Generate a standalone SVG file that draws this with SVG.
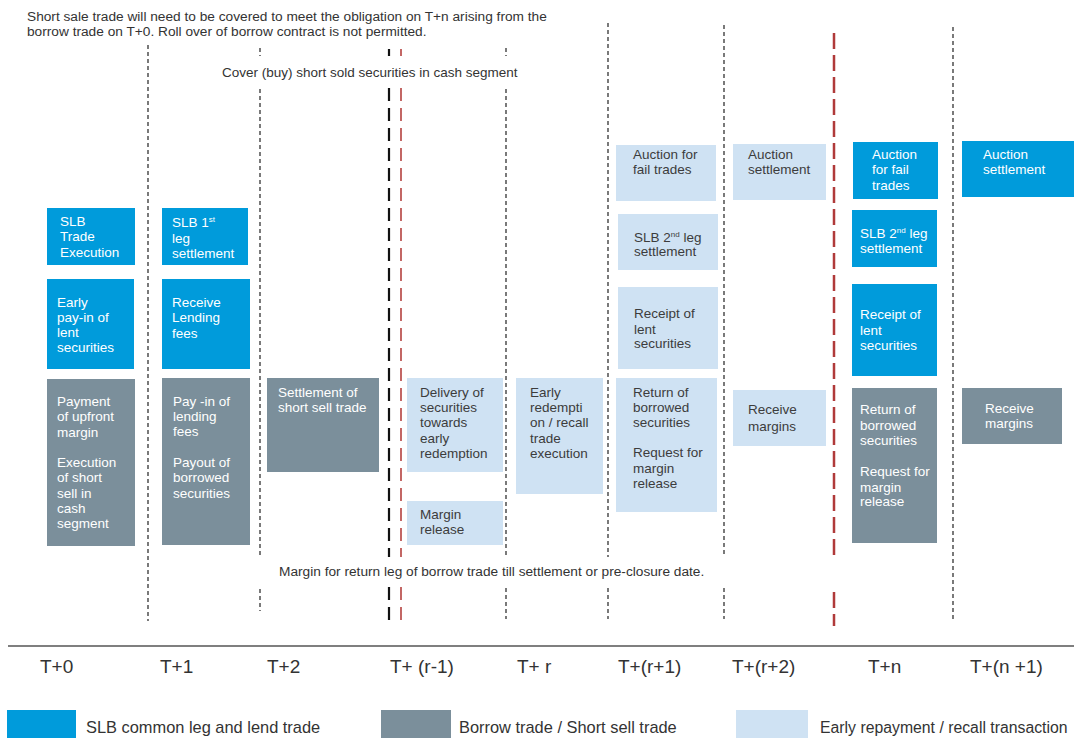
<svg xmlns="http://www.w3.org/2000/svg" width="1074" height="738" viewBox="0 0 1074 738">
<style>
text{font-family:"Liberation Sans",Arial,sans-serif;}
.b{fill:#009BDB;}
.g{fill:#7B8F9B;}
.l{fill:#CFE2F3;}
.w{fill:#FFFFFF;font-size:13.5px;}
.d{fill:#3C3C3C;font-size:13.5px;}
.n{fill:#333333;font-size:13.7px;}
.ax{fill:#333333;font-size:19px;}
.lg{fill:#333333;font-size:16.4px;}
.thin{stroke:#222;stroke-width:1.2;stroke-dasharray:4 3;fill:none;}
.bk{stroke:#111;stroke-width:2.2;stroke-dasharray:13 7;fill:none;}
.rd{stroke:#B5413F;stroke-width:1.6;stroke-dasharray:13 7;fill:none;}
.rd2{stroke:#B03A3A;stroke-width:2.5;stroke-dasharray:16 6;fill:none;}
</style>
<rect width="1074" height="738" fill="#FFFFFF"/>
<g id="notes">
<text class="n" x="27" y="21">Short sale trade will need to be covered to meet the obligation on T+n arising from the</text>
<text class="n" x="27" y="36">borrow trade on T+0. Roll over of borrow contract is not permitted.</text>
<text class="n" x="222" y="77" style="font-size:13.5px">Cover (buy) short sold securities in cash segment</text>
<text class="n" x="279" y="576" style="font-size:13.7px">Margin for return leg of borrow trade till settlement or pre-closure date.</text>
</g>
<g id="connectors">
<line class="thin" x1="148" y1="45" x2="148" y2="621"/>
<line class="thin" x1="260" y1="48" x2="260" y2="56"/>
<line class="thin" x1="260" y1="89" x2="260" y2="557"/>
<line class="thin" x1="260" y1="589" x2="260" y2="611"/>
<line class="bk" x1="389" y1="49" x2="389" y2="56"/>
<line class="bk" x1="389" y1="88" x2="389" y2="557"/>
<line class="bk" x1="389" y1="587" x2="389" y2="620"/>
<line class="rd" x1="401" y1="49" x2="401" y2="56"/>
<line class="rd" x1="401" y1="88" x2="401" y2="557"/>
<line class="rd" x1="401" y1="587" x2="401" y2="620"/>
<line class="thin" x1="506" y1="48" x2="506" y2="56"/>
<line class="thin" x1="506" y1="89" x2="506" y2="557"/>
<line class="thin" x1="506" y1="588" x2="506" y2="619"/>
<line class="thin" x1="608" y1="23" x2="608" y2="557"/>
<line class="thin" x1="608" y1="588" x2="608" y2="619"/>
<line class="thin" x1="724" y1="25" x2="724" y2="557"/>
<line class="thin" x1="724" y1="588" x2="724" y2="619"/>
<line class="rd2" x1="834" y1="33" x2="834" y2="557"/>
<line class="rd2" x1="834" y1="592" x2="834" y2="626"/>
<line class="thin" x1="953" y1="27" x2="953" y2="621"/>
<line x1="8" y1="646" x2="1074" y2="646" stroke="#555" stroke-width="1.6"/>
</g>
<g id="t0-slb-trade">
<rect class="b" x="47" y="208" width="88" height="57"/>
<text class="w" x="60" y="226">SLB</text>
<text class="w" x="60" y="241">Trade</text>
<text class="w" x="60" y="257">Execution</text>
</g>
<g id="t0-early-payin">
<rect class="b" x="47" y="279" width="87" height="90"/>
<text class="w" x="57" y="307">Early</text>
<text class="w" x="57" y="322">pay-in of</text>
<text class="w" x="57" y="337">lent</text>
<text class="w" x="57" y="352">securities</text>
</g>
<g id="t0-payment">
<rect class="g" x="47" y="379" width="88" height="167"/>
<text class="w" x="57" y="406">Payment</text>
<text class="w" x="57" y="421">of upfront</text>
<text class="w" x="57" y="437">margin</text>
<text class="w" x="57" y="467">Execution</text>
<text class="w" x="57" y="482">of short</text>
<text class="w" x="57" y="498">sell in</text>
<text class="w" x="57" y="513">cash</text>
<text class="w" x="57" y="528">segment</text>
</g>
<g id="t1-slb-1st">
<rect class="b" x="162" y="208" width="86" height="57"/>
<text class="w" x="172" y="227">SLB 1<tspan font-size="8" dy="-5">st</tspan></text>
<text class="w" x="172" y="243">leg</text>
<text class="w" x="172" y="258">settlement</text>
</g>
<g id="t1-receive-fees">
<rect class="b" x="162" y="279" width="88" height="90"/>
<text class="w" x="172" y="307">Receive</text>
<text class="w" x="172" y="322">Lending</text>
<text class="w" x="172" y="338">fees</text>
</g>
<g id="t1-payin">
<rect class="g" x="162" y="378" width="88" height="167"/>
<text class="w" x="173" y="406">Pay -in of</text>
<text class="w" x="173" y="421">lending</text>
<text class="w" x="173" y="436">fees</text>
<text class="w" x="173" y="467">Payout of</text>
<text class="w" x="173" y="482">borrowed</text>
<text class="w" x="173" y="498">securities</text>
</g>
<g id="t2-settlement">
<rect class="g" x="267" y="378" width="112" height="94"/>
<text class="w" x="278" y="397">Settlement of</text>
<text class="w" x="278" y="412">short sell trade</text>
</g>
<g id="tr1-delivery">
<rect class="l" x="407" y="378" width="96" height="94"/>
<text class="d" x="420" y="397">Delivery of</text>
<text class="d" x="420" y="412">securities</text>
<text class="d" x="420" y="427">towards</text>
<text class="d" x="420" y="443">early</text>
<text class="d" x="420" y="458">redemption</text>
</g>
<g id="tr1-margin-release">
<rect class="l" x="407" y="501" width="96" height="44"/>
<text class="d" x="420" y="519">Margin</text>
<text class="d" x="420" y="534">release</text>
</g>
<g id="tr-early-redemption">
<rect class="l" x="516" y="378" width="87" height="116"/>
<text class="d" x="530" y="397">Early</text>
<text class="d" x="530" y="412">redempti</text>
<text class="d" x="530" y="427">on / recall</text>
<text class="d" x="530" y="443">trade</text>
<text class="d" x="530" y="458">execution</text>
</g>
<g id="tr1p-auction-fail">
<rect class="l" x="616" y="145" width="100" height="56"/>
<text class="d" x="633" y="159">Auction for</text>
<text class="d" x="633" y="174">fail trades</text>
</g>
<g id="tr1p-slb-2nd">
<rect class="l" x="618" y="214" width="100" height="56"/>
<text class="d" x="634" y="242">SLB 2<tspan font-size="8" dy="-5">nd</tspan><tspan dy="5"> leg</tspan></text>
<text class="d" x="634" y="256">settlement</text>
</g>
<g id="tr1p-receipt">
<rect class="l" x="618" y="287" width="100" height="82"/>
<text class="d" x="634" y="318">Receipt of</text>
<text class="d" x="634" y="334">lent</text>
<text class="d" x="634" y="348">securities</text>
</g>
<g id="tr1p-return">
<rect class="l" x="616" y="378" width="101" height="134"/>
<text class="d" x="633" y="397">Return of</text>
<text class="d" x="633" y="412">borrowed</text>
<text class="d" x="633" y="427">securities</text>
<text class="d" x="633" y="457">Request for</text>
<text class="d" x="633" y="473">margin</text>
<text class="d" x="633" y="488">release</text>
</g>
<g id="tr2-auction-settlement">
<rect class="l" x="733" y="144" width="93" height="56"/>
<text class="d" x="748" y="159">Auction</text>
<text class="d" x="748" y="174">settlement</text>
</g>
<g id="tr2-receive-margins">
<rect class="l" x="733" y="390" width="93" height="56"/>
<text class="d" x="748" y="414">Receive</text>
<text class="d" x="748" y="431">margins</text>
</g>
<g id="tn-auction-fail">
<rect class="b" x="853" y="142" width="85" height="57"/>
<text class="w" x="872" y="159">Auction</text>
<text class="w" x="872" y="174">for fail</text>
<text class="w" x="872" y="190">trades</text>
</g>
<g id="tn-slb-2nd">
<rect class="b" x="852" y="210" width="85" height="57"/>
<text class="w" x="860" y="238">SLB 2<tspan font-size="8" dy="-5">nd</tspan><tspan dy="5"> leg</tspan></text>
<text class="w" x="860" y="253">settlement</text>
</g>
<g id="tn-receipt">
<rect class="b" x="852" y="284" width="85" height="92"/>
<text class="w" x="860" y="319">Receipt of</text>
<text class="w" x="860" y="335">lent</text>
<text class="w" x="860" y="350">securities</text>
</g>
<g id="tn-return">
<rect class="g" x="852" y="388" width="85" height="155"/>
<text class="w" x="860" y="414">Return of</text>
<text class="w" x="860" y="430">borrowed</text>
<text class="w" x="860" y="445">securities</text>
<text class="w" x="860" y="476">Request for</text>
<text class="w" x="860" y="492">margin</text>
<text class="w" x="860" y="506">release</text>
</g>
<g id="tn1-auction-settlement">
<rect class="b" x="962" y="141" width="112" height="56"/>
<text class="w" x="983" y="159">Auction</text>
<text class="w" x="983" y="174">settlement</text>
</g>
<g id="tn1-receive-margins">
<rect class="g" x="962" y="388" width="100" height="56"/>
<text class="w" x="985" y="413">Receive</text>
<text class="w" x="985" y="428">margins</text>
</g>
<g id="axis-labels">
<text class="ax" x="40" y="673">T+0</text>
<text class="ax" x="160" y="673">T+1</text>
<text class="ax" x="267" y="673">T+2</text>
<text class="ax" x="390" y="673">T+ (r-1)</text>
<text class="ax" x="517" y="673">T+ r</text>
<text class="ax" x="618" y="673">T+(r+1)</text>
<text class="ax" x="732" y="673">T+(r+2)</text>
<text class="ax" x="868" y="673">T+n</text>
<text class="ax" x="970" y="673">T+(n +1)</text>
</g>
<g id="legend">
<rect class="b" x="7" y="710" width="69" height="28"/>
<text class="lg" x="86" y="733">SLB common leg and lend trade</text>
<rect class="g" x="381" y="710" width="70" height="28"/>
<text class="lg" x="459" y="733">Borrow trade / Short sell trade</text>
<rect class="l" x="736" y="710" width="72" height="28"/>
<text class="lg" x="820" y="733" style="font-size:15.8px">Early repayment / recall transaction</text>
</g>
</svg>
